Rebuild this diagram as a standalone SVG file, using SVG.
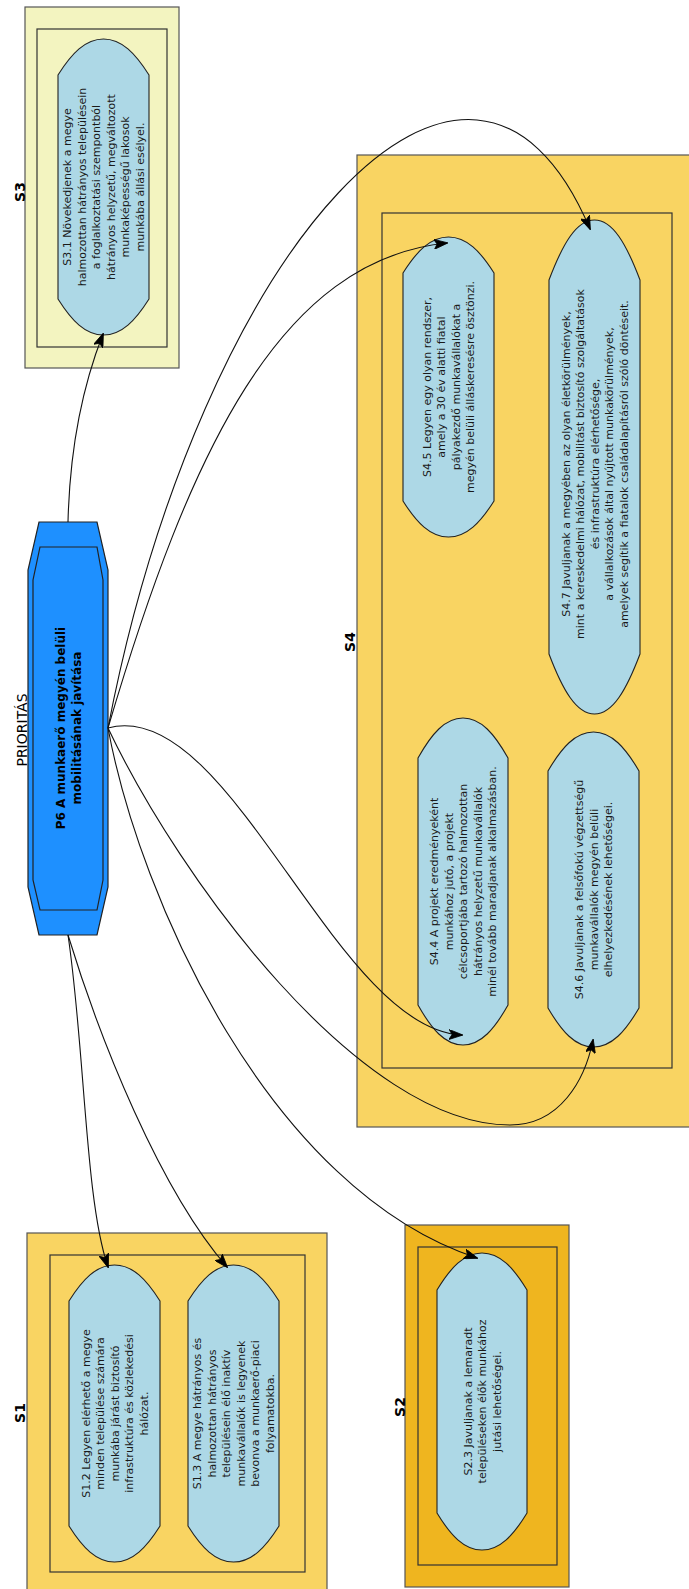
<svg xmlns="http://www.w3.org/2000/svg" width="689" height="1589" viewBox="0 0 689 1589">
<style>
.bg{fill:#ffffff}
.outer{stroke:#555;stroke-width:1.2}
.inner{stroke:#333;stroke-width:1.2}
.lite{fill:#f3f4c0}
.gold{fill:#f9d462}
.dark{fill:#efb51f}
.node{fill:#add8e6;stroke:#222;stroke-width:1.1}
.pnode{fill:#1e90ff;stroke:#222;stroke-width:1.2}
.t{font-family:"DejaVu Sans",Verdana,sans-serif;font-size:11px;fill:#1a1a1a;text-anchor:middle}
.pt{font-family:"DejaVu Sans",Verdana,sans-serif;font-size:12px;font-weight:bold;fill:#000;text-anchor:middle}
.cl{font-family:"DejaVu Sans",Verdana,sans-serif;font-size:14px;font-weight:bold;fill:#000;text-anchor:middle}
.lbl{font-family:"DejaVu Sans",Verdana,sans-serif;font-size:14px;fill:#000;text-anchor:middle}
.edge{fill:none;stroke:#111;stroke-width:1.1;marker-end:url(#arr)}
</style>
<defs>
<marker id="arr" markerUnits="userSpaceOnUse" markerWidth="14" markerHeight="10" viewBox="0 0 14 10" refX="13" refY="5" orient="auto">
<path d="M0,0 L14,5 L0,10 L3,5 Z" fill="#000" stroke="#000" stroke-width="0.8"/>
</marker>
</defs>
<rect class="bg" x="0" y="0" width="689" height="1589"/>

<g id="cluster_S3">
<rect class="lite outer" x="25" y="7" width="154" height="361"/>
<rect class="lite inner" x="37" y="29" width="130" height="318"/>
<text class="cl" transform="translate(24.5,192) rotate(-90)">S3</text>
</g>
<g id="cluster_S4">
<rect class="gold outer" x="357" y="155" width="360" height="972"/>
<rect class="gold inner" x="382" y="213" width="290" height="855"/>
<text class="cl" transform="translate(355,642) rotate(-90)">S4</text>
</g>
<g id="cluster_S1">
<rect class="gold outer" x="27" y="1233" width="300" height="380"/>
<rect class="gold inner" x="50" y="1255" width="255" height="317"/>
<text class="cl" transform="translate(25,1413) rotate(-90)">S1</text>
</g>
<g id="cluster_S2">
<rect class="dark outer" x="405" y="1225" width="164" height="362"/>
<rect class="dark inner" x="418" y="1247" width="139" height="318"/>
<text class="cl" transform="translate(404.5,1407) rotate(-90)">S2</text>
</g>

<g id="P6">
<text class="lbl" transform="translate(26.5,730) rotate(-90)">PRIORITÁS</text>
<polygon class="pnode" points="39,522 97,522 108,570 108,887 97,935 39,935 28,887 28,570"/>
<polygon class="pnode" points="40,547 97,547 103,580 103,880 97,910 40,910 33,880 33,580"/>
<text class="pt" transform="translate(68,728) rotate(-90)"><tspan x="0" y="-3.5">P6 A munkaerő megyén belüli</tspan><tspan x="0" y="12.5">mobilitásának javítása</tspan></text>
</g>

<g id="S3.1">
<path class="node" d="M58,75 C71.65,53.4 85.3,39 103.5,39 C121.7,39 135.35,53.4 149,75 L149,299 C135.35,320.6 121.7,335 103.5,335 C85.3,335 71.65,320.6 58,299 Z"/>
<text class="t" transform="translate(103.5,187) rotate(-90)"><tspan x="0" y="-32.25">S3.1 Növekedjenek a megye</tspan><tspan x="0" y="-17.75">halmozottan hátrányos településein</tspan><tspan x="0" y="-3.25">a foglalkoztatási szempontból</tspan><tspan x="0" y="11.25">hátrányos helyzetű, megváltozott</tspan><tspan x="0" y="25.75">munkaképességű lakosok</tspan><tspan x="0" y="40.25">munkába állási esélyel.</tspan></text>
</g>

<g id="S4.5">
<path class="node" d="M403,273 C416.65,251.4 430.3,237 448.5,237 C466.7,237 480.35,251.4 494,273 L494,501 C480.35,522.6 466.7,537 448.5,537 C430.3,537 416.65,522.6 403,501 Z"/>
<text class="t" transform="translate(448.5,387) rotate(-90)"><tspan x="0" y="-17.75">S4.5 Legyen egy olyan rendszer,</tspan><tspan x="0" y="-3.25">amely a 30 év alatti fiatal</tspan><tspan x="0" y="11.25">pályakezdő munkavállalókat a</tspan><tspan x="0" y="25.75">megyén belüli álláskeresésre ösztönzi.</tspan></text>
</g>

<g id="S4.7">
<path class="node" d="M549,280 C562.65,244 576.3,220 594.5,220 C612.7,220 626.35,244 640,280 L640,654 C626.35,690 612.7,714 594.5,714 C576.3,714 562.65,690 549,654 Z"/>
<text class="t" transform="translate(594.5,464) rotate(-90)"><tspan x="0" y="-25">S4.7 Javuljanak a megyében az olyan életkörülmények,</tspan><tspan x="0" y="-10.5">mint a kereskedelmi hálózat, mobilitást biztosító szolgáltatások</tspan><tspan x="0" y="4">és infrastruktúra elérhetősége,</tspan><tspan x="0" y="18.5">a vállalkozások által nyújtott munkakörülmények,</tspan><tspan x="0" y="33">amelyek segítik a fiatalok családalapításról szóló döntéseit.</tspan></text>
</g>

<g id="S4.4">
<path class="node" d="M418,758 C431.5,734 445,718 463,718 C481,718 494.5,734 508,758 L508,1005 C494.5,1029 481,1045 463,1045 C445,1045 431.5,1029 418,1005 Z"/>
<text class="t" transform="translate(463,881.5) rotate(-90)"><tspan x="0" y="-25">S4.4 A projekt eredményeként</tspan><tspan x="0" y="-10.5">munkához jutó, a projekt</tspan><tspan x="0" y="4">célcsoportjába tartozó halmozottan</tspan><tspan x="0" y="18.5">hátrányos helyzetű munkavállalók</tspan><tspan x="0" y="33">minél tovább maradjanak alkalmazásban.</tspan></text>
</g>

<g id="S4.6">
<path class="node" d="M548,771 C561.65,747.6 575.3,732 593.5,732 C611.7,732 625.35,747.6 639,771 L639,1008 C625.35,1031.4 611.7,1047 593.5,1047 C575.3,1047 561.65,1031.4 548,1008 Z"/>
<text class="t" transform="translate(593.5,889.5) rotate(-90)"><tspan x="0" y="-10.5">S4.6 Javuljanak a felsőfokú végzettségű</tspan><tspan x="0" y="4">munkavállalók megyén belüli</tspan><tspan x="0" y="18.5">elhelyezkedésének lehetőségei.</tspan></text>
</g>

<g id="S1.2">
<path class="node" d="M69,1301 C82.65,1279.4 96.3,1265 114.5,1265 C132.7,1265 146.35,1279.4 160,1301 L160,1526 C146.35,1547.6 132.7,1562 114.5,1562 C96.3,1562 82.65,1547.6 69,1526 Z"/>
<text class="t" transform="translate(114.5,1413.5) rotate(-90)"><tspan x="0" y="-25">S1.2 Legyen elérhető a megye</tspan><tspan x="0" y="-10.5">minden települése számára</tspan><tspan x="0" y="4">munkába járást biztosító</tspan><tspan x="0" y="18.5">infrastruktúra és közlekedési</tspan><tspan x="0" y="33">hálózat.</tspan></text>
</g>

<g id="S1.3">
<path class="node" d="M188,1301 C201.65,1279.4 215.3,1265 233.5,1265 C251.7,1265 265.35,1279.4 279,1301 L279,1526 C265.35,1547.6 251.7,1562 233.5,1562 C215.3,1562 201.65,1547.6 188,1526 Z"/>
<text class="t" transform="translate(233.5,1413.5) rotate(-90)"><tspan x="0" y="-32.25">S1.3 A megye hátrányos és</tspan><tspan x="0" y="-17.75">halmozottan hátrányos</tspan><tspan x="0" y="-3.25">településein élő inaktív</tspan><tspan x="0" y="11.25">munkavállalók is legyenek</tspan><tspan x="0" y="25.75">bevonva a munkaerő-piaci</tspan><tspan x="0" y="40.25">folyamatokba.</tspan></text>
</g>

<g id="S2.3">
<path class="node" d="M437,1290 C450.5,1267.8 464,1253 482,1253 C500,1253 513.5,1267.8 527,1290 L527,1513 C513.5,1535.2 500,1550 482,1550 C464,1550 450.5,1535.2 437,1513 Z"/>
<text class="t" transform="translate(482,1401.5) rotate(-90)"><tspan x="0" y="-10.5">S2.3 Javuljanak a lemaradt</tspan><tspan x="0" y="4">településeken élők munkához</tspan><tspan x="0" y="18.5">jutási lehetőségei.</tspan></text>
</g>

<g id="connectors">
<path class="edge" d="M68,522 C70,440 85,380 103,334"/>
<path class="edge" d="M108,728 C200,250 470,-55 590,229"/>
<path class="edge" d="M108,728 C190,450 280,260 447,243"/>
<path class="edge" d="M108,728 C230,695 335,1030 462,1035"/>
<path class="edge" d="M108,728 C180,880 360,1125 510,1125 C560,1125 585,1080 593,1040"/>
<path class="edge" d="M108,728 C140,900 270,1190 477,1258"/>
<path class="edge" d="M68,935 C85,1050 85,1200 108,1267"/>
<path class="edge" d="M68,935 C100,1040 160,1190 227,1267"/>
</g>
</svg>
